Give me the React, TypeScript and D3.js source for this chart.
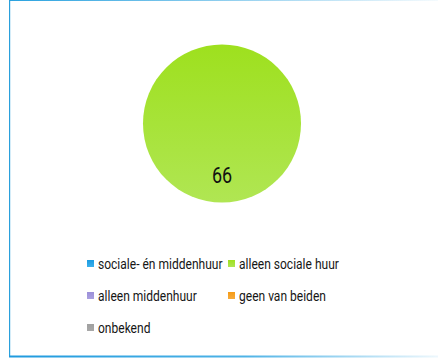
import React from "react";
import * as d3 from "d3";

const categories = ["sociale- én middenhuur", "alleen sociale huur", "alleen middenhuur", "geen van beiden", "onbekend"];
const values = [0, 66, 0, 0, 0];
const colors = ["#1a9ae0", "#9ee01e", "#9b8fd9", "#f59b16", "#a0a0a0"];
const colorsLight = ["#3cb0ec", "#b0e653", "#aaa0e0", "#f7ab3c", "#a8a8a8"];

const W = 438;
const H = 363;

export default function App() {
  const cx = 222;
  const cy = 123.5;
  const r = 79;
  const pie = d3.pie<number>().sort(null).value((d) => d)(values);
  const arc = d3.arc<d3.PieArcDatum<number>>().innerRadius(0).outerRadius(r);
  const labelArc = d3.arc<d3.PieArcDatum<number>>().innerRadius(r * 0.66).outerRadius(r * 0.66);

  const legendX = d3.scaleOrdinal<number, number>().domain([0, 1]).range([87, 228]);

  return (
    <svg width={W} height={H} style={{ position: "absolute", left: 0, top: 0 }} fontFamily="Roboto, sans-serif">
      <defs>
        <linearGradient id="topLine" x1="0" x2="1" y1="0" y2="0">
          <stop offset="0" stopColor="#2aa2df" />
          <stop offset="1" stopColor="#2aa2df" stopOpacity="0.05" />
        </linearGradient>
        <linearGradient id="botLine" x1="0" x2="1" y1="0" y2="0">
          <stop offset="0" stopColor="#1f9ade" />
          <stop offset="0.55" stopColor="#4fb3e6" />
          <stop offset="1" stopColor="#4fb3e6" stopOpacity="0.1" />
        </linearGradient>
        {colors.map((c, i) => (
          <linearGradient key={i} id={`g${i}`} x1="0" x2="0" y1="0" y2="1">
            <stop offset="0" stopColor={c} />
            <stop offset="1" stopColor={colorsLight[i]} />
          </linearGradient>
        ))}
      </defs>
      <rect x={0} y={0} width={W} height={H} fill="#ffffff" />
      <rect x={9} y={0} width={429} height={1} fill="url(#topLine)" />
      <rect x={9} y={0} width={1.2} height={357} fill="#2aa0dc" />
      <rect x={9} y={355.5} width={429} height={2} fill="url(#botLine)" />
      <g transform={`translate(${cx},${cy})`}>
        {pie.map((p, i) =>
          p.value > 0 ? <path key={i} d={arc(p) || ""} fill={`url(#g${i})`} /> : null
        )}
        {pie.map((p, i) => {
          if (p.value <= 0) return null;
          const [lx, ly] = labelArc.centroid(p);
          return (
            <text key={i} x={lx} y={ly} textAnchor="middle" dominantBaseline="central" fontSize={22.5} fill="#111" transform={`translate(${lx},${ly}) scale(0.8,1) translate(${-lx},${-ly})`}>
              {p.value}
            </text>
          );
        })}
      </g>
      {categories.map((c, i) => {
        const col = i % 2;
        const row = Math.floor(i / 2);
        const x = legendX(col);
        const y = row * 32 + 264;
        return (
          <g key={c} transform={`translate(${x},${y})`}>
            <rect x={0} y={-4} width={7} height={7} fill={`url(#g${i})`} />
            <text x={11} y={0} dominantBaseline="central" fontSize={14} fill="#161616" transform="scale(0.86,1)" style={{ transformOrigin: "11px 0px" }}>
              {c}
            </text>
          </g>
        );
      })}
    </svg>
  );
}
